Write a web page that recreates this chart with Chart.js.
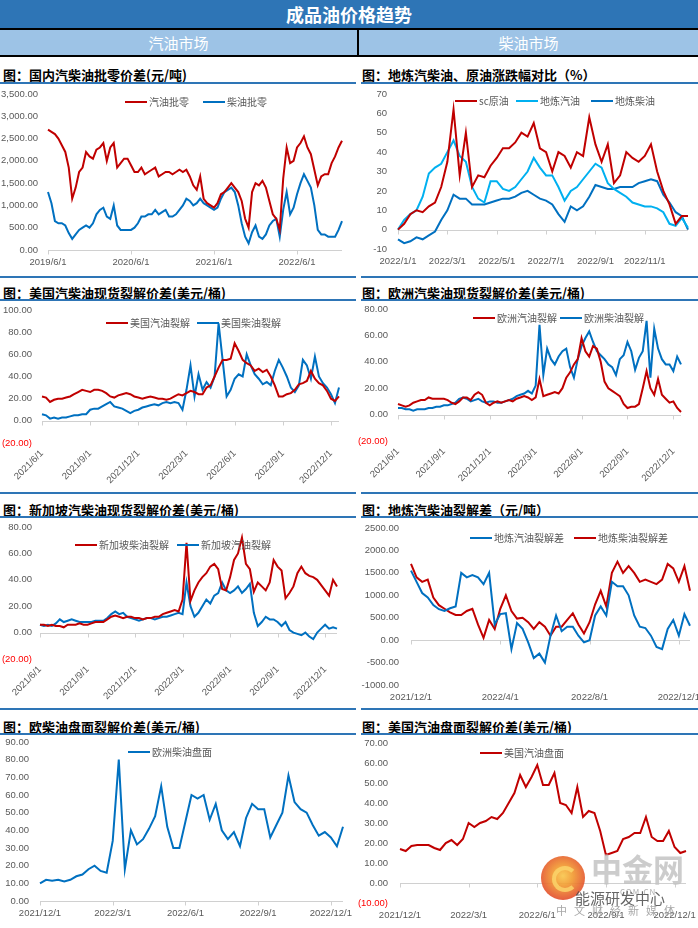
<!DOCTYPE html>
<html>
<head>
<meta charset="utf-8">
<script src="https://cdn.jsdelivr.net/npm/chart.js@4.4.1/dist/chart.umd.min.js"></script>
<style>
  body { margin: 0; background: #fff; font-family: 'Noto Sans CJK SC', sans-serif; }
  #page { position: relative; width: 698px; height: 928px; overflow: hidden; background: #fff; }
  .abs { position: absolute; }
  .band1 { left: 0; top: 0; width: 698px; height: 28px; background: #2e75b6; color: #fff;
           font-weight: bold; font-size: 18px; line-height: 28px; text-align: center; }
  .band2 { top: 30px; height: 25px; background: #9dc3e6; color: #fff; font-size: 15px;
           line-height: 25px; text-align: center; }
  .blk { background: #000; }
  .ptitle { font-size: 13px; font-weight: bold; color: #000; line-height: 18px; white-space: nowrap; }
  .uline { height: 2px; background: #2e75b6; }
  .leg { font-size: 10px; color: #595959; line-height: 12px; white-space: nowrap; }
  .leg i { display: inline-block; width: 22px; height: 2px; vertical-align: middle; margin-right: 2px; margin-top: -2px; }
  canvas { position: absolute; }
</style>
</head>
<body>
<div id="page">
  <div class="abs band1">成品油价格趋势</div>
  <div class="abs blk" style="left:0;top:28px;width:698px;height:2px"></div>
  <div class="abs band2" style="left:0;width:357px">汽油市场</div>
  <div class="abs band2" style="left:359px;width:339px">柴油市场</div>
  <div class="abs blk" style="left:357px;top:30px;width:2px;height:25px"></div>
  <div class="abs blk" style="left:0;top:55px;width:698px;height:2px"></div>

  <!-- row 1 -->
  <div class="abs ptitle" style="left:3px;top:66px">图：国内汽柴油批零价差(元/吨)</div>
  <div class="abs ptitle" style="left:362px;top:66px">图：地炼汽柴油、原油涨跌幅对比（%）</div>
  <div class="abs uline" style="left:0;top:82px;width:356px"></div>
  <div class="abs uline" style="left:361px;top:82px;width:337px"></div>
  <canvas id="c1" width="355" height="186" style="left:0;top:86px"></canvas>
  <canvas id="c2" width="344" height="186" style="left:354px;top:86px"></canvas>

  <!-- row 2 -->
  <div class="abs uline" style="left:0;top:276px;width:356px"></div>
  <div class="abs uline" style="left:361px;top:276px;width:337px"></div>
  <div class="abs ptitle" style="left:3px;top:284px">图：美国汽柴油现货裂解价差(美元/桶)</div>
  <div class="abs ptitle" style="left:362px;top:284px">图：欧洲汽柴油现货裂解价差(美元/桶)</div>
  <div class="abs uline" style="left:0;top:299px;width:356px"></div>
  <div class="abs uline" style="left:361px;top:299px;width:337px"></div>
  <canvas id="c3" width="355" height="190" style="left:0;top:302px"></canvas>
  <canvas id="c4" width="344" height="190" style="left:354px;top:302px"></canvas>

  <!-- row 3 -->
  <div class="abs uline" style="left:0;top:492px;width:356px"></div>
  <div class="abs uline" style="left:361px;top:492px;width:337px"></div>
  <div class="abs ptitle" style="left:3px;top:501px">图：新加坡汽柴油现货裂解价差(美元/桶)</div>
  <div class="abs ptitle" style="left:362px;top:501px">图：地炼汽柴油裂解差（元/吨）</div>
  <div class="abs uline" style="left:0;top:516px;width:356px"></div>
  <div class="abs uline" style="left:361px;top:516px;width:337px"></div>
  <canvas id="c5" width="355" height="190" style="left:0;top:518px"></canvas>
  <canvas id="c6" width="344" height="190" style="left:354px;top:518px"></canvas>

  <!-- row 4 -->
  <div class="abs uline" style="left:0;top:708px;width:356px"></div>
  <div class="abs uline" style="left:361px;top:708px;width:337px"></div>
  <div class="abs ptitle" style="left:3px;top:718px">图：欧柴油盘面裂解价差(美元/桶)</div>
  <div class="abs ptitle" style="left:362px;top:718px">图：美国汽油盘面裂解价差(美元/桶)</div>
  <div class="abs uline" style="left:0;top:733px;width:356px"></div>
  <div class="abs uline" style="left:361px;top:733px;width:337px"></div>
  <canvas id="c7" width="355" height="192" style="left:0;top:736px"></canvas>
  <canvas id="c8" width="344" height="192" style="left:354px;top:736px"></canvas>

  <!-- legends -->
  <div class="abs leg" style="left:125px;top:96px"><i style="background:#c00000"></i>汽油批零</div>
  <div class="abs leg" style="left:203px;top:96px"><i style="background:#0070c0"></i>柴油批零</div>
  <div class="abs leg" style="left:455px;top:95px"><i style="background:#c00000"></i>sc原油</div>
  <div class="abs leg" style="left:516px;top:95px"><i style="background:#00b0f0"></i>地炼汽油</div>
  <div class="abs leg" style="left:591px;top:95px"><i style="background:#0070c0"></i>地炼柴油</div>
  <div class="abs leg" style="left:106px;top:317px"><i style="background:#c00000"></i>美国汽油裂解</div>
  <div class="abs leg" style="left:197px;top:317px"><i style="background:#0070c0"></i>美国柴油裂解</div>
  <div class="abs leg" style="left:473px;top:312px"><i style="background:#c00000"></i>欧洲汽油裂解</div>
  <div class="abs leg" style="left:560px;top:312px"><i style="background:#0070c0"></i>欧洲柴油裂解</div>
  <div class="abs leg" style="left:75px;top:539px"><i style="background:#c00000"></i>新加坡柴油裂解</div>
  <div class="abs leg" style="left:177px;top:539px"><i style="background:#0070c0"></i>新加坡汽油裂解</div>
  <div class="abs leg" style="left:470px;top:532px"><i style="background:#0070c0"></i>地炼汽油裂解差</div>
  <div class="abs leg" style="left:574px;top:532px"><i style="background:#c00000"></i>地炼柴油裂解差</div>
  <div class="abs leg" style="left:128px;top:746px"><i style="background:#0070c0"></i>欧洲柴油盘面</div>
  <div class="abs leg" style="left:480px;top:747px"><i style="background:#c00000"></i>美国汽油盘面</div>

  <!-- watermark -->
  <div class="abs" style="left:541px;top:856px;width:44px;height:44px;border-radius:50%;opacity:0.9;
       background:radial-gradient(circle at 50% 45%, #f9c64a 0%, #f29a2e 30%, #e4532c 70%, #c9302c 100%)"></div>
  <div class="abs" style="left:552px;top:866px;width:18px;height:18px;border-radius:50%;border:4px solid #fbd46a;border-right-color:transparent;opacity:0.85"></div>
  <div class="abs" style="left:591px;top:850px;font-size:31px;font-weight:bold;color:#c4c4c4;opacity:0.85;line-height:36px">中金网</div>
  <div class="abs" style="left:620px;top:887px;font-size:8px;color:#b0b0b0;letter-spacing:1px;line-height:9px">COM.CN</div>
  <div class="abs" style="left:575px;top:890px;font-size:15px;color:#4a4a4a;opacity:0.85;line-height:16px">能源研发中心</div>
  <div class="abs" style="left:556px;top:904px;font-size:11px;color:#a8a8a8;letter-spacing:7px;line-height:12px">中文财经新媒体</div>
</div>

<script>
// ---------- categories ----------
function dateLabels(y, m, days, n) {
  const out = [];
  while (out.length < n) {
    for (const d of days) { if (out.length < n) out.push(y + '/' + m + '/' + d); }
    m++;
    if (m > 12) { m = 1; y++; }
  }
  return out;
}
const datesRetail = dateLabels(2019, 6, [1, 16], 86);
const datesPct = dateLabels(2022, 1, [1, 8, 16, 23], 48);
const datesSpot = dateLabels(2021, 6, [1, 8, 16, 23], 75);
const datesSpotSg = dateLabels(2021, 6, [1, 8, 16, 23], 76);
const datesShort = dateLabels(2021, 12, [1, 8, 16, 23], 51);

// ---------- tick labels ----------
const ticksRetail = ['2019/6/1', '2020/6/1', '2021/6/1', '2022/6/1'];
const ticksPct = ['2022/1/1', '2022/3/1', '2022/5/1', '2022/7/1', '2022/9/1', '2022/11/1'];
const ticksSpot = ['2021/6/1', '2021/9/1', '2021/12/1', '2022/3/1', '2022/6/1', '2022/9/1', '2022/12/1'];
const ticksLocalCrack = ['2021/12/1', '2022/4/1', '2022/8/1', '2022/12/1'];
const ticksFut = ['2021/12/1', '2022/3/1', '2022/6/1', '2022/9/1', '2022/12/1'];

// ---------- series ----------
// 国内汽柴油批零价差
const gasRetail = [2700,2650, 2600,2500, 2350,2200, 1850,1150, 1400,1750, 1850,2200, 2100,2050,
  2250,2300, 2400,2000, 2300,2400, 1850,1950, 2050,2050, 1900,1750, 1750,1850, 1700,1750, 1800,1850, 1650,1700, 1750,1750, 1700,1750,
  1800,1750, 1800,1650, 1450,1350, 1650,1150, 1050,1000, 950,1050, 1250,1300, 1400,1500, 1400,1300, 1100,700, 500,1300, 1500,1450,
  1550,1400, 1100,800, 700,450, 1600,2300, 1950,2000, 2300,2400, 2550,2300, 2150,1800, 1450,1650, 1700,1700, 1950,2100, 2300,2450];
const dieselRetail = [1300,1050, 650,600, 600,550, 380,250, 350,450, 500,550, 500,600,
  800,900, 950,750, 700,1000, 550,450, 450,450, 450,500, 600,750, 750,800, 800,900, 800,850, 900,750, 750,800,
  900,1000, 1150,1100, 1000,1050, 1150,1050, 1000,950, 900,950, 1150,1300, 1350,1400, 1300,1000, 600,300, 150,400, 550,300,
  250,350, 550,650, 700,300, 900,1300, 800,950, 1250,1500, 1700,1550, 1400,1000, 450,350, 350,300, 300,300, 450,650];

// 地炼汽柴油、原油涨跌幅对比
const scCrude = [0,3,8,10, 9,12,14,22, 35,62,28,50, 22,28,27,33, 37,42,42,45, 50,48,55,42,
  40,30,40,38, 32,40,38,58, 44,35,44,24, 28,40,37,35, 38,44,30,20, 13,3,7,7];
const gasLocal = [0,5,8,10, 17,29,32,34, 40,46,38,35, 22,16,14,25, 25,21,20,22, 26,30,37,32,
  28,28,22,15, 20,22,26,30, 34,32,24,21, 19,17,14,13, 12,12,11,9, 3,2,6,1];
const dieselLocal = [-5,-7,-6,-4, -5,-3,-1,5, 10,18,16,16, 13,13,13,14, 15,16,16,17, 19,20,18,16,
  15,13,8,4, 12,10,12,17, 23,22,21,21, 22,22,22,24, 25,26,25,18, 14,9,7,0];

// 美国汽柴油现货裂解价差
const usGas = [22,21,17,19, 20,20,21,22, 24,26,28,27, 26,28,28,27, 25,22,21,23, 24,25,24,22, 21,20,21,22,
  21,20,20,19, 20,22,24,23, 25,27,26,24, 24,30,32,40, 48,55,55,56, 70,63,55,52, 50,45,47,44, 46,40,32,22,
  22,24,25,28, 33,34,36,45, 38,34,32,27, 20,18,22];
const usDiesel = [6,5,2,3, 2,3,3,4, 5,5,6,6, 10,11,11,13, 15,17,13,12, 11,9,7,9, 10,12,13,14,
  15,14,16,17, 16,17,16,10, 28,50,22,42, 28,35,30,40, 88,55,22,28, 38,42,40,60, 50,42,38,33, 35,32,45,55,
  48,40,30,26, 32,55,50,38, 58,40,34,30, 24,16,30];

// 欧洲汽柴油现货裂解价差
const euGas = [8,7,6,7, 9,10,11,11, 13,12,12,12, 12,11,9,8, 10,13,13,11, 15,17,15,9, 7,9,10,9,
  10,11,10,12, 13,14,13,11, 13,27,14,15, 16,17,16,20, 28,32,38,42, 58,48,44,52, 50,40,25,20, 18,16,14,8,
  5,6,6,8, 20,33,20,15, 27,15,12,9, 10,5,2];
const euDiesel = [5,5,4,4, 3,4,4,4, 5,5,6,6, 7,7,8,9, 12,13,12,10, 11,12,10,9, 10,10,9,9,
  10,11,12,14, 15,16,18,16, 22,68,30,50, 42,38,44,48, 50,36,28,42, 52,58,63,55, 48,45,42,38, 36,30,42,45,
  55,48,34,43, 48,71,28,65, 50,42,38,38, 33,44,38];

// 新加坡汽柴油现货裂解价差
const sgDiesel = [6,6,5,6, 5,5,4,6, 6,6,7,6, 6,7,8,8, 8,10,12,13, 12,11,12,12, 11,11,10,11,
  11,12,12,14, 15,16,17,16, 25,68,24,32, 38,42,45,50, 52,48,33,32, 42,55,60,72, 52,48,31,38, 35,32,38,55,
  50,47,26,30, 35,45,50,45, 43,42,40,36, 32,28,40,35];
const sgGas = [6,5,6,5, 7,10,8,9, 10,9,8,8, 8,8,9,9, 9,11,14,16, 14,15,12,11, 10,9,10,11,
  11,10,11,12, 12,13,14,15, 14,38,20,12, 15,20,25,22, 28,30,38,32, 30,32,35,30, 33,37,15,5, 8,12,10,10,
  8,5,8,2, 0,-1,-2,0, -3,-5,0,3, 6,3,4,3];

// 地炼汽柴油裂解差
const localGasCrack = [1550,1300,1050,950, 780,690,650,710, 750,1500,1400,1450, 1400,1250,1500,350,
  580,600,-200,380, 250,-50,-400,-300, -500,100,550,200, 300,300,100,-50, 0,550,750,550,
  1300,1200,1200,1000, 550,300,270,100, -150,-200,250,450, 100,580,320];
const localDieselCrack = [1700,1400,1300,1350, 950,780,700,620, 560,560,650,700, 350,50,450,250,
  700,1000,650,480, 500,400,250,400, 300,100,300,300, 450,600,350,150, 400,800,1100,750,
  1500,1750,1500,1650, 1500,1300,1350,1300, 1250,1350,1700,1600, 1300,1650,1100];

// 欧柴油盘面 / 美国汽油盘面
const euDieselFut = [10,12,11.5,12, 11,12,14,15, 18,20,17,16, 34,80,18,40, 32,35,41,48, 65,42,30,30,
  45,60,58,60, 46,55,40,35, 39,31,47,55, 52,52,36,43, 50,71,56,52, 50,43,37,39, 36,31,42];
const usGasFut = [17,16,18.5,19, 19,19,17.5,16.5, 20,21.5,19,22, 30,28,30,31, 33,32,35,40, 45,54,48,53,
  59,49,49,55, 40,39,35,48, 33,36,35,26, 14,15,16,22, 23,25,25,33, 23,21,21,26, 18,15,16];

const RED = '#c00000', BLUE = '#0070c0', SKY = '#00b0f0';

// ---------- formats ----------
const fmtComma = v => v.toLocaleString('en-US', { minimumFractionDigits: 2, maximumFractionDigits: 2 });
const fmtInt = v => String(v);
const fmtParen = v => v < 0 ? '(' + Math.abs(v).toFixed(2) + ')' : v.toFixed(2);
const fmtFixed = v => v.toFixed(2);

Chart.defaults.font.family = "'Liberation Sans', 'Noto Sans CJK SC', sans-serif";
Chart.defaults.font.size = 9.5;
Chart.defaults.color = '#595959';

// zero line with small tick marks, like the Excel axis crossing at 0
const zeroAxis = {
  id: 'zeroAxis',
  beforeDatasetsDraw(chart) {
    const { ctx, chartArea, scales: { x, y } } = chart;
    const y0 = Math.round(y.getPixelForValue(0)) + 0.5;
    ctx.save();
    ctx.strokeStyle = '#d0d0d0';
    ctx.lineWidth = 1;
    ctx.beginPath();
    ctx.moveTo(chartArea.left, y0);
    ctx.lineTo(chartArea.right, y0);
    x.ticks.forEach((t, i) => {
      if (t.label) {
        const px = Math.round(x.getPixelForTick(i)) + 0.5;
        ctx.moveTo(px, y0);
        ctx.lineTo(px, y0 + 4);
      }
    });
    ctx.stroke();
    ctx.restore();
  }
};

function drawChart(id, o) {
  new Chart(document.getElementById(id), {
    type: 'line',
    data: {
      labels: o.labels,
      datasets: o.series.map(s => ({
        data: s.data, borderColor: s.color, borderWidth: 2,
        pointRadius: 0, tension: 0, fill: false
      }))
    },
    options: {
      responsive: false,
      animation: false,
      layout: { padding: { top: o.padT, right: o.padR, left: 0, bottom: 0 } },
      plugins: { legend: { display: false }, tooltip: { enabled: false } },
      scales: {
        x: {
          offset: false,
          border: { display: false },
          grid: { display: false, drawTicks: false },
          ticks: {
            autoSkip: false, maxRotation: o.rot, minRotation: o.rot, padding: o.xPad,
            callback: function (v) {
              const l = this.getLabelForValue(v);
              return o.ticks.includes(l) ? l : null;
            }
          },
          afterFit(s) {
            s.height = o.axisH;
            s.paddingLeft = 0; s.paddingRight = 0;
          }
        },
        y: {
          min: o.min, max: o.max,
          border: { display: false },
          grid: { display: false, drawTicks: false },
          ticks: {
            stepSize: o.step, padding: o.yPad, callback: o.fmt,
            color: c => (o.negRed && c.tick && c.tick.value < 0) ? '#ff0000' : '#595959'
          },
          afterFit(s) {
            s.width = o.axisW;
            s.paddingTop = 0; s.paddingBottom = 0;
          }
        }
      }
    },
    plugins: [zeroAxis]
  });
}

drawChart('c1', {
  labels: datesRetail, ticks: ticksRetail,
  series: [{ data: gasRetail, color: RED }, { data: dieselRetail, color: BLUE }],
  min: 0, max: 3500, step: 500, fmt: fmtComma,
  axisW: 48, yPad: 10, axisH: 22, xPad: 7, padT: 8, padR: 13, rot: 0
});
drawChart('c2', {
  labels: datesPct, ticks: ticksPct,
  series: [{ data: scCrude, color: RED }, { data: gasLocal, color: SKY }, { data: dieselLocal, color: BLUE }],
  min: -10, max: 70, step: 10, fmt: fmtInt,
  axisW: 44, yPad: 11, axisH: 23, xPad: 7, padT: 8, padR: 10, rot: 0
});
drawChart('c3', {
  labels: datesSpot, ticks: ticksSpot,
  series: [{ data: usGas, color: RED }, { data: usDiesel, color: BLUE }],
  min: -20, max: 100, step: 20, fmt: fmtParen, negRed: true,
  axisW: 42, yPad: 10, axisH: 49, xPad: 5, padT: 8, padR: 16, rot: 45
});
drawChart('c4', {
  labels: datesSpot, ticks: ticksSpot,
  series: [{ data: euGas, color: RED }, { data: euDiesel, color: BLUE }],
  min: -20, max: 80, step: 20, fmt: fmtParen, negRed: true,
  axisW: 44, yPad: 10, axisH: 51, xPad: 5, padT: 7, padR: 17, rot: 45
});
drawChart('c5', {
  labels: datesSpotSg, ticks: ticksSpot,
  series: [{ data: sgDiesel, color: RED }, { data: sgGas, color: BLUE }],
  min: -20, max: 80, step: 20, fmt: fmtParen, negRed: true,
  axisW: 40, yPad: 8, axisH: 49, xPad: 5, padT: 9, padR: 18, rot: 45
});
drawChart('c6', {
  labels: datesShort, ticks: ticksLocalCrack,
  series: [{ data: localGasCrack, color: BLUE }, { data: localDieselCrack, color: RED }],
  min: -1000, max: 2500, step: 500, fmt: fmtFixed,
  axisW: 57, yPad: 12, axisH: 23, xPad: 7, padT: 10, padR: 8, rot: 0
});
drawChart('c7', {
  labels: datesShort, ticks: ticksFut,
  series: [{ data: euDieselFut, color: BLUE }],
  min: 0, max: 90, step: 10, fmt: fmtFixed,
  axisW: 40, yPad: 11, axisH: 27, xPad: 7, padT: 6, padR: 12, rot: 0
});
drawChart('c8', {
  labels: datesShort, ticks: ticksFut,
  series: [{ data: usGasFut, color: RED }],
  min: -10, max: 70, step: 10, fmt: fmtParen, negRed: true,
  axisW: 46, yPad: 12, axisH: 25, xPad: 7, padT: 7, padR: 12, rot: 0
});
</script>
</body>
</html>
